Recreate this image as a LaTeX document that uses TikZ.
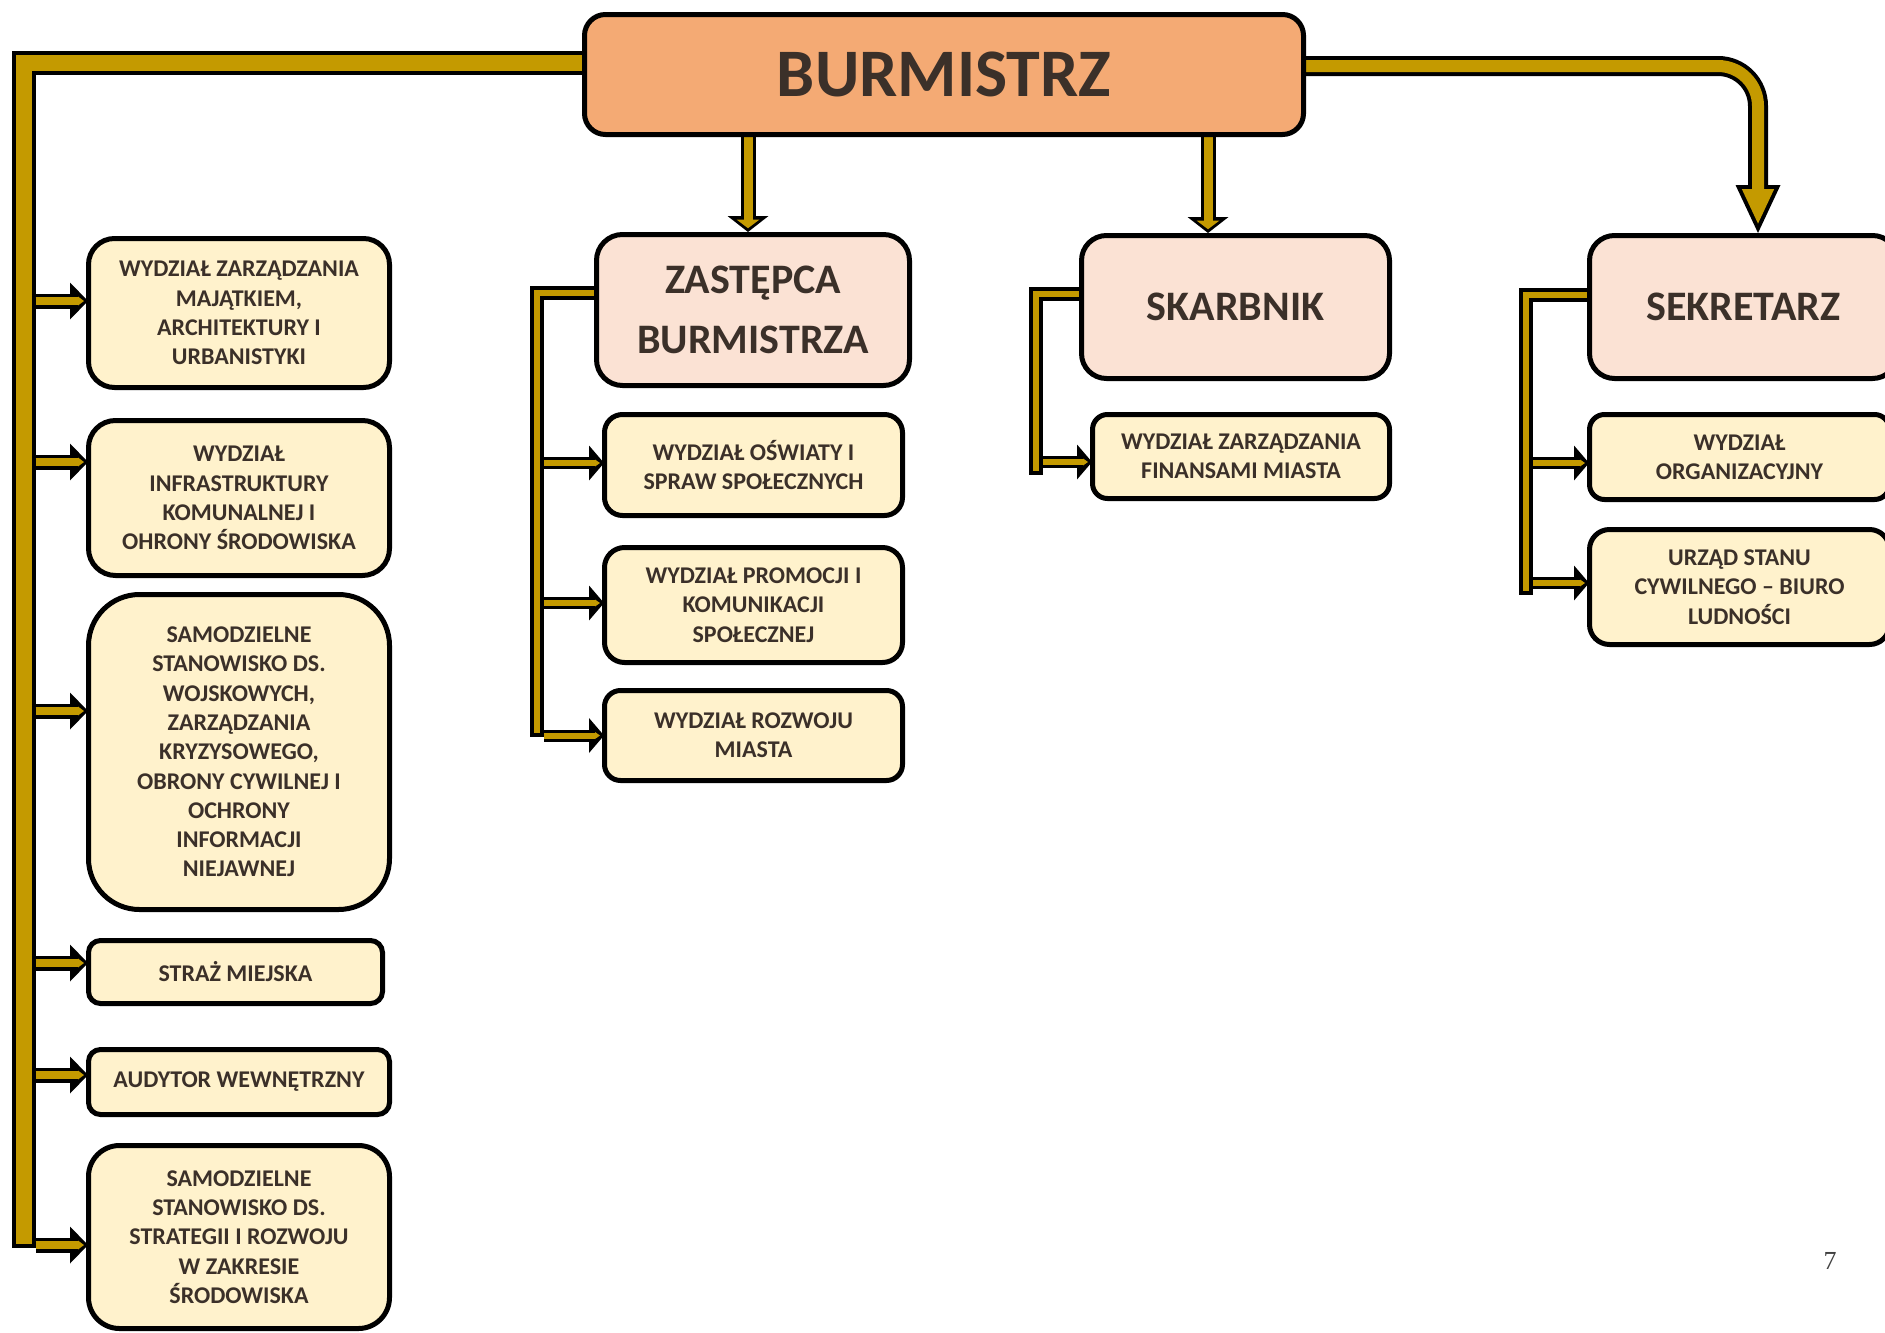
\documentclass[tikz,border=0pt]{standalone}
\usepackage{fontspec}
\setmainfont{Carlito}
\newfontfamily\pgnumfont{Liberation Serif}
\usetikzlibrary{arrows.meta,calc,backgrounds}
\definecolor{gold}{HTML}{C49A00}
\definecolor{orng}{HTML}{F4AA74}
\definecolor{pnk}{HTML}{FBE2D4}
\definecolor{yel}{HTML}{FFF2CC}
\definecolor{txt}{HTML}{3B3029}
\begin{document}
\begin{tikzpicture}[x=1pt,y=-1pt,
  box/.style={draw=black, line width=5pt, align=center, text=txt, inner sep=0pt},
  topbox/.style={box, fill=orng, font=\bfseries\fontsize{68}{68}\selectfont},
  midbox/.style={box, fill=pnk, font=\bfseries\fontsize{42}{60}\selectfont},
  unitbox/.style={box, fill=yel, font=\bfseries\fontsize{24}{29.3}\selectfont},
  bandbk/.style={draw=black, line width=24pt},
  bandgd/.style={draw=gold, line width=16pt, shorten >=4pt},
  lbk/.style={draw=black, line width=15pt, -{Triangle[length=18pt,width=37pt,line width=0pt]}},
  lgd/.style={draw=gold, line width=8pt, shorten >=4pt, -{Triangle[length=6pt,width=9pt,line width=0pt]}},
  dnbk/.style={draw=black, line width=15pt, -{Triangle[length=16pt,width=41pt,line width=0pt]}},
  dngd/.style={draw=gold, line width=9pt, shorten >=3.75pt, -{Triangle[length=8.75pt,width=23pt,line width=0pt]}},
  elbk/.style={draw=black, line width=14pt},
  elgd/.style={draw=gold, line width=6pt, shorten >=4pt},
  sbk/.style={draw=black, line width=12pt, -{Triangle[length=15pt,width=35pt,line width=0pt]}},
  sgd/.style={draw=gold, line width=6pt, shorten >=4pt, -{Triangle[length=5pt,width=7pt,line width=0pt]}},
  rbk/.style={draw=black, line width=20pt, rounded corners=40pt, -{Triangle[length=48pt,width=45pt,line width=0pt]}},
  rgd/.style={draw=gold, line width=12pt, rounded corners=40pt, shorten >=9.4pt, -{Triangle[length=34.6pt,width=32.4pt,line width=0pt]}}
]
\useasboundingbox (0,0) rectangle (1885,1333);

% top
\node[topbox, minimum width=719pt, minimum height=120pt, rounded corners=21pt] (BUR) at (944,74.5) {BURMISTRZ};
% second level
\node[midbox, minimum width=313pt, minimum height=151pt, rounded corners=26pt] (ZAS) at (753,310) {ZASTĘPCA\\BURMISTRZA};
\node[midbox, minimum width=308pt, minimum height=143pt, rounded corners=25pt] (SKA) at (1235.5,307) {SKARBNIK};
\node[midbox, minimum width=308pt, minimum height=143pt, rounded corners=25pt] (SEK) at (1743.5,307) {SEKRETARZ};
% left column
\node[unitbox, minimum width=301pt, minimum height=149pt, rounded corners=26pt] (L1) at (239,313) {WYDZIAŁ ZARZĄDZANIA\\MAJĄTKIEM,\\ARCHITEKTURY I\\URBANISTYKI};
\node[unitbox, minimum width=301pt, minimum height=155pt, rounded corners=27pt] (L2) at (239,498) {WYDZIAŁ\\INFRASTRUKTURY\\KOMUNALNEJ I\\OHRONY ŚRODOWISKA};
\node[unitbox, minimum width=301pt, minimum height=315pt, rounded corners=51pt] (L3) at (239,752) {SAMODZIELNE\\STANOWISKO DS.\\WOJSKOWYCH,\\ZARZĄDZANIA\\KRYZYSOWEGO,\\OBRONY CYWILNEJ I\\OCHRONY\\INFORMACJI\\NIEJAWNEJ};
\node[unitbox, minimum width=294pt, minimum height=63pt, rounded corners=12pt] (L4) at (235.5,972) {STRAŻ MIEJSKA};
\node[unitbox, minimum width=301pt, minimum height=65pt, rounded corners=12pt] (L5) at (239,1082) {AUDYTOR WEWNĘTRZNY};
\node[unitbox, minimum width=301pt, minimum height=183pt, rounded corners=31pt] (L6) at (239,1237) {SAMODZIELNE\\STANOWISKO DS.\\STRATEGII I ROZWOJU\\W ZAKRESIE\\ŚRODOWISKA};
% middle column
\node[unitbox, minimum width=298pt, minimum height=101pt, rounded corners=18pt] (M1) at (753.5,465) {WYDZIAŁ OŚWIATY I\\SPRAW SPOŁECZNYCH};
\node[unitbox, minimum width=298pt, minimum height=115pt, rounded corners=20pt] (M2) at (753.5,605) {WYDZIAŁ PROMOCJI I\\KOMUNIKACJI\\SPOŁECZNEJ};
\node[unitbox, minimum width=298pt, minimum height=90pt, rounded corners=16pt] (M3) at (753.5,735.5) {WYDZIAŁ ROZWOJU\\MIASTA};
% skarbnik column
\node[unitbox, minimum width=297pt, minimum height=84pt, rounded corners=15pt] (FIN) at (1241,456.5) {WYDZIAŁ ZARZĄDZANIA\\FINANSAMI MIASTA};
% sekretarz column
\node[unitbox, minimum width=300pt, minimum height=85pt, rounded corners=15pt] (ORG) at (1739.5,457) {WYDZIAŁ\\ORGANIZACYJNY};
\node[unitbox, minimum width=300pt, minimum height=115pt, rounded corners=20pt] (URZ) at (1739.5,587) {URZĄD STANU\\CYWILNEGO – BIURO\\LUDNOŚCI};
% page number
\node[font=\pgnumfont\fontsize{26}{26}\selectfont, text=black!75] (PG) at (1830,1261) {7};

% named end points
\coordinate (lb) at (23.5,1248);
\coordinate (zb) at (537,737);
\coordinate (skb) at (1036,475);
\coordinate (seb) at (1526,595);
\coordinate (zt) at ($(ZAS.north)+(-5,0)$);
\coordinate (st) at ($(SKA.north)+(-27.5,0)$);
\coordinate (sk) at ($(SEK.north)+(14.5,0)$);
\coordinate (tL1) at ($(L1.west)+(2,-12)$);
\coordinate (tL2) at ($(L2.west)+(2,-36)$);
\coordinate (tL3) at ($(L3.west)+(2,-41)$);
\coordinate (tL4) at ($(L4.west)+(2,-9)$);
\coordinate (tL5) at ($(L5.west)+(2,-7)$);
\coordinate (tL6) at ($(L6.west)+(2,8)$);
\coordinate (tM1) at ($(M1.west)+(2,-2)$);
\coordinate (tM2) at ($(M2.west)+(2,-2)$);
\coordinate (tM3) at ($(M3.west)+(2,0)$);
\coordinate (tF) at ($(FIN.west)+(2,5.5)$);
\coordinate (tO) at ($(ORG.west)+(2,6)$);
\coordinate (tU) at ($(URZ.west)+(2,-4)$);

\begin{scope}[on background layer]
  % main left band
  \draw[bandbk] ($(BUR.west)+(6,-12)$) -| (lb);
  \draw[bandgd] ($(BUR.west)+(6,-12)$) -| (lb);
  \foreach \t in {tL1,tL2,tL3,tL4,tL5,tL6} {
    \draw[lbk] ($(lb |- \t)+(12,0)$) -- (\t);
    \draw[lgd] ($(lb |- \t)+(12,0)$) -- (\t);
  }
  % right band to sekretarz
  \draw[rbk] ($(BUR.east)+(-6,-8.5)$) -| (sk);
  \draw[rgd] ($(BUR.east)+(-6,-8.5)$) -| (sk);
  % down arrows
  \draw[dnbk] (zt |- BUR.center) -- (zt);
  \draw[dngd] (zt |- BUR.center) -- (zt);
  \draw[dnbk] (st |- BUR.center) -- (st);
  \draw[dngd] (st |- BUR.center) -- (st);
  % elbows
  \draw[elbk] ($(ZAS.west)+(6,-17)$) -| (zb);
  \draw[elgd] ($(ZAS.west)+(6,-17)$) -| (zb);
  \draw[elbk] ($(SKA.west)+(6,-13)$) -| (skb);
  \draw[elgd] ($(SKA.west)+(6,-13)$) -| (skb);
  \draw[elbk] ($(SEK.west)+(6,-12)$) -| (seb);
  \draw[elgd] ($(SEK.west)+(6,-12)$) -| (seb);
  % sub branches
  \foreach \t in {tM1,tM2,tM3} {
    \draw[sbk] ($(zb |- \t)+(7,0)$) -- (\t);
    \draw[sgd] ($(zb |- \t)+(7,0)$) -- (\t);
  }
  \draw[sbk] ($(skb |- tF)+(7,0)$) -- (tF);
  \draw[sgd] ($(skb |- tF)+(7,0)$) -- (tF);
  \foreach \t in {tO,tU} {
    \draw[sbk] ($(seb |- \t)+(7,0)$) -- (\t);
    \draw[sgd] ($(seb |- \t)+(7,0)$) -- (\t);
  }
\end{scope}
\end{tikzpicture}
\end{document}
